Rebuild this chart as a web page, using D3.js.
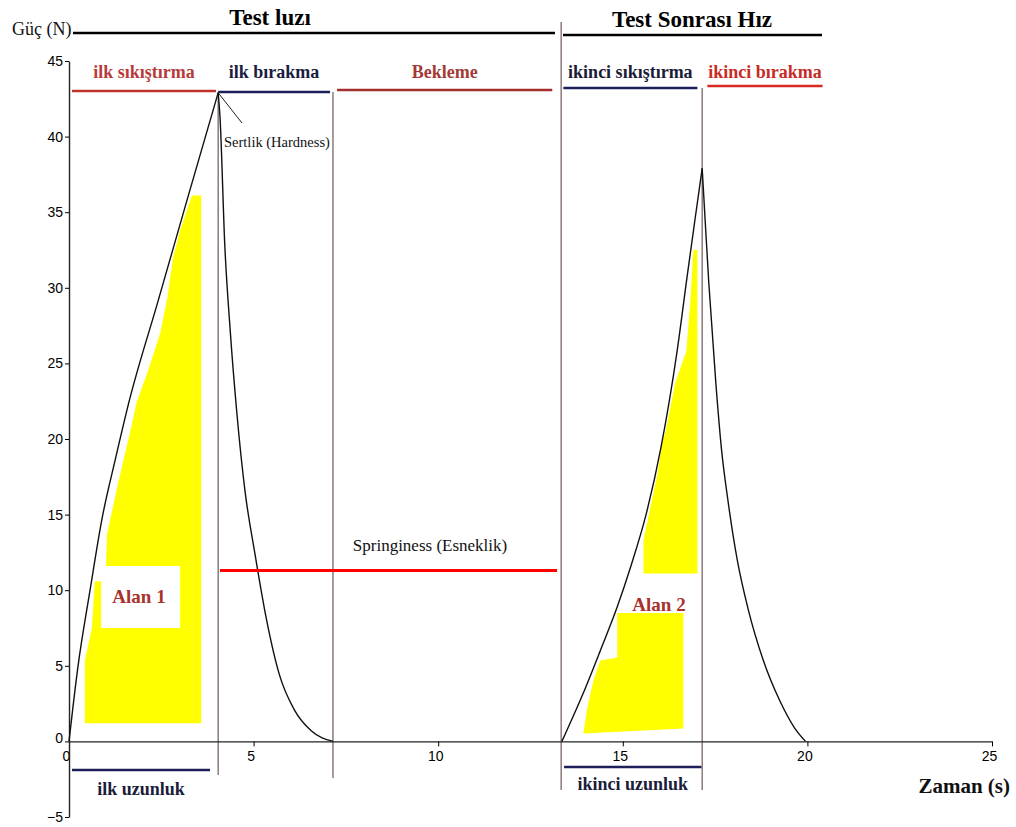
<!DOCTYPE html>
<html>
<head>
<meta charset="utf-8">
<script src="https://cdn.jsdelivr.net/npm/d3@7"></script>
<style>
  body { margin: 0; background: #fff; }
  .serif { font-family: "Liberation Serif", "DejaVu Serif", serif; }
  .tick text { font-family: "Liberation Sans Narrow", "Liberation Sans", sans-serif; font-size: 14px; }
</style>
</head>
<body>
<div id="app"></div>
<script>
// axis ticks
const xTicks = [0, 5, 10, 15, 20, 25];
const yTicks = [-5, 0, 5, 10, 15, 20, 25, 30, 35, 40, 45];

// force curves [time (s), force (N)]
const compress1 = [[0, 0], [0.24, 4.9], [0.57, 10.0], [0.9, 14.8], [1.25, 18.6], [1.63, 22.5], [2.41, 29.1], [3.22, 36.0], [4.04, 42.9]];
const release1 = [[4.04, 42.9], [4.09, 41.3], [4.22, 32.8], [4.36, 27.4], [4.54, 21.9], [4.77, 16.5], [5.03, 12.5], [5.33, 8.3], [5.7, 4.4], [6.1, 2.1], [6.56, 0.7], [7.15, 0]];
const compress2 = [[13.35, 0], [13.93, 3.2], [14.39, 6.0], [14.85, 8.9], [15.22, 11.6], [15.64, 15.1], [16.03, 19.4], [16.47, 25.8], [16.74, 30.7], [16.96, 34.6], [17.15, 37.9]];
const release2 = [[17.15, 37.9], [17.19, 36.2], [17.33, 30.3], [17.52, 23.7], [17.67, 19.4], [17.85, 15.9], [18.1, 12.0], [18.4, 8.7], [18.8, 5.4], [19.25, 2.7], [19.65, 0.9], [19.95, 0]];

// shaded areas (outline points)
const area1 = [[3.33, 36.1], [3.58, 36.1], [3.58, 1.2], [0.43, 1.2], [0.43, 5.35], [0.62, 7.5], [0.7, 10.6], [0.87, 10.6], [0.87, 7.5], [3.01, 7.5], [3.01, 11.6], [1.0, 11.6], [1.03, 13.7], [1.33, 17.1], [1.65, 20.4], [1.84, 22.5], [2.11, 24.3], [2.47, 27.0], [2.66, 29.3], [2.82, 32.0], [3.01, 33.8]];
const area2a = [[16.91, 32.5], [17.02, 32.5], [17.02, 11.1], [15.56, 11.1], [15.56, 13.3], [15.75, 15.5], [15.94, 17.7], [16.07, 19.9], [16.15, 20.4], [16.42, 23.7], [16.72, 25.8], [16.83, 29.1]];
const area2b = [[14.85, 8.5], [16.64, 8.5], [16.64, 0.86], [13.93, 0.53], [14.04, 2.25], [14.2, 4.0], [14.39, 5.35], [14.85, 5.55]];

// phases: label, start, end (s)
const phaseNames = ["ilk sıkıştırma", "ilk bırakma", "Bekleme", "ikinci sıkıştırma", "ikinci bırakma"];
const phaseStart = [0.08, 4.04, 7.26, 13.39, 17.29];
const phaseEnd = [3.98, 7.07, 13.09, 17.02, 20.41];
const phaseColors = ["#c0302c", "#1c1f5a", "#a3302c", "#1c1f5a", "#d42a22"];
const phaseTextColors = ["#b83a3a", "#1a1c40", "#a33a36", "#1a1c36", "#c82a26"];
const phaseLineY = [91, 92, 90, 88, 86];

// boundaries between phases (s)
const boundaries = [4.04, 7.15, 13.33, 17.15];
const boundaryTop = [92, 92, 22, 88];
const boundaryBottom = [775, 778, 790, 790];

const lengthNames = ["ilk uzunluk", "ikinci uzunluk"];
const lengthStart = [0.08, 13.41];
const lengthEnd = [3.82, 17.13];

const springStart = 4.09, springEnd = 13.22, springForce = 11.3;

const width = 1016, height = 827;

const svg = d3.select("#app").append("svg")
  .attr("width", width)
  .attr("height", height)
  .attr("style", "background-color:#ffffff");

const x = d3.scaleLinear().domain([0, 25]).range([69, 992]);
const y = d3.scaleLinear().domain([-5, 45]).range([817, 61]);

// yellow areas
const poly = d3.line().x(d => x(d[0])).y(d => y(d[1])).curve(d3.curveLinearClosed);
[area1, area2a, area2b].forEach(a => {
  svg.append("path").attr("d", poly(a)).attr("fill", "#ffff00").attr("stroke", "none");
});

// phase boundary lines
svg.append("g").selectAll("line").data(boundaries).enter().append("line")
  .attr("x1", d => x(d)).attr("x2", d => x(d))
  .attr("y1", (d, i) => boundaryTop[i]).attr("y2", (d, i) => boundaryBottom[i])
  .attr("stroke", "#6e5a58").attr("stroke-width", 1.2);

// axes
svg.append("g")
  .attr("transform", "translate(0," + y(0) + ")")
  .call(d3.axisBottom(x).tickValues(xTicks).tickSize(5).tickPadding(5).tickSizeOuter(0))
  .call(g => g.select(".domain").attr("stroke", "#222").attr("stroke-width", 1.4))
  .call(g => g.selectAll(".tick text").attr("dx", "-3"));

svg.append("g")
  .attr("transform", "translate(" + x(0) + ",0)")
  .call(d3.axisLeft(y).tickValues(yTicks).tickSize(4).tickPadding(2).tickSizeOuter(0))
  .call(g => g.select(".domain").attr("stroke", "#222").attr("stroke-width", 1.4))
  .call(g => g.selectAll(".tick").filter(d => d === 0).select("text").attr("dy", "0.1em"));

// force curves
const line = d3.line().x(d => x(d[0])).y(d => y(d[1])).curve(d3.curveMonotoneX);
[compress1, release1, compress2, release2].forEach(c => {
  svg.append("path").datum(c).attr("d", line)
    .attr("fill", "none").attr("stroke", "#111").attr("stroke-width", 1.4);
});

// top header
svg.append("text").attr("class", "serif").attr("x", 12).attr("y", 35)
  .attr("font-size", 18).attr("fill", "#111").text("Güç (N)");
svg.append("line").attr("x1", 73).attr("x2", 555).attr("y1", 33).attr("y2", 33)
  .attr("stroke", "#000").attr("stroke-width", 2.5);
svg.append("line").attr("x1", 563).attr("x2", 822).attr("y1", 35).attr("y2", 35)
  .attr("stroke", "#000").attr("stroke-width", 2.5);
svg.append("text").attr("class", "serif").attr("x", 270).attr("y", 25)
  .attr("text-anchor", "middle").attr("font-size", 23).attr("font-weight", "bold").text("Test luzı");
svg.append("text").attr("class", "serif").attr("x", 692).attr("y", 27)
  .attr("text-anchor", "middle").attr("font-size", 23).attr("font-weight", "bold").text("Test Sonrası Hız");

// phase labels and lines
phaseNames.forEach((p, i) => {
  svg.append("line")
    .attr("x1", x(phaseStart[i])).attr("x2", x(phaseEnd[i]))
    .attr("y1", phaseLineY[i]).attr("y2", phaseLineY[i])
    .attr("stroke", phaseColors[i]).attr("stroke-width", 2.5);
  svg.append("text").attr("class", "serif")
    .attr("x", (x(phaseStart[i]) + x(phaseEnd[i])) / 2).attr("y", 78)
    .attr("text-anchor", "middle").attr("font-size", 18).attr("font-weight", "bold")
    .attr("fill", phaseTextColors[i]).text(p);
});

// hardness annotation
svg.append("line").attr("x1", x(4.04)).attr("y1", y(42.9)).attr("x2", 242).attr("y2", 123)
  .attr("stroke", "#222").attr("stroke-width", 1);
svg.append("text").attr("class", "serif").attr("x", 224).attr("y", 147)
  .attr("font-size", 14.5).attr("fill", "#111").text("Sertlik (Hardness)");

// springiness
svg.append("line").attr("x1", x(springStart)).attr("x2", x(springEnd))
  .attr("y1", y(springForce)).attr("y2", y(springForce))
  .attr("stroke", "#ff0000").attr("stroke-width", 3);
svg.append("text").attr("class", "serif").attr("x", 430).attr("y", 551)
  .attr("text-anchor", "middle").attr("font-size", 17).attr("fill", "#111").text("Springiness (Esneklik)");

// area labels
svg.append("text").attr("class", "serif").attr("x", 139).attr("y", 603)
  .attr("text-anchor", "middle").attr("font-size", 19).attr("font-weight", "bold")
  .attr("fill", "#a8322e").text("Alan 1");
svg.append("text").attr("class", "serif").attr("x", 659).attr("y", 611)
  .attr("text-anchor", "middle").attr("font-size", 19).attr("font-weight", "bold")
  .attr("fill", "#a8322e").text("Alan 2");

// lengths under axis
const lengthLineY = [770, 767], lengthTextY = [795, 790];
lengthNames.forEach((n, i) => {
  svg.append("line").attr("x1", x(lengthStart[i])).attr("x2", x(lengthEnd[i]))
    .attr("y1", lengthLineY[i]).attr("y2", lengthLineY[i])
    .attr("stroke", "#1c1f5a").attr("stroke-width", 2.5);
  svg.append("text").attr("class", "serif")
    .attr("x", (x(lengthStart[i]) + x(lengthEnd[i])) / 2).attr("y", lengthTextY[i])
    .attr("text-anchor", "middle").attr("font-size", 18).attr("font-weight", "bold")
    .attr("fill", "#1a1c3a").text(n);
});

svg.append("text").attr("class", "serif").attr("x", 1010).attr("y", 793)
  .attr("text-anchor", "end").attr("font-size", 21).attr("font-weight", "bold")
  .attr("fill", "#111").text("Zaman (s)");
</script>
</body>
</html>
